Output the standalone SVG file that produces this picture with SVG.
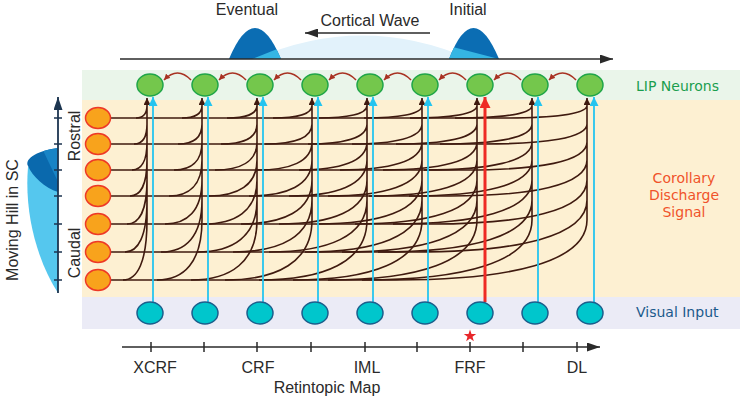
<svg xmlns="http://www.w3.org/2000/svg" width="746" height="402" viewBox="0 0 746 402">
<style>
.t{font-family:"Liberation Sans",Arial,sans-serif;font-size:16px;fill:#2a2a2a}
.v{font-family:"DejaVu Sans",Verdana,sans-serif;font-size:14px}
.br{fill:none;stroke:#3f1a0f;stroke-width:1.6;marker-end:url(#mb)}
.cy{fill:none;stroke:#25c4ef;stroke-width:1.8;marker-end:url(#mc)}
.arc{fill:none;stroke:#a83222;stroke-width:1.6;marker-end:url(#ma)}
.lip{fill:#74c74c;stroke:#1fa548;stroke-width:1.5}
.vis{fill:#00c6cc;stroke:#1b5e8c;stroke-width:1.5}
.sc{fill:#f8a31c;stroke:#ee3927;stroke-width:1.5}
.ax{fill:none;stroke:#2a2a2a;stroke-width:1.6}
</style>
<defs>
<marker id="mb" markerUnits="userSpaceOnUse" markerWidth="8" markerHeight="7" refX="7" refY="3.5" orient="auto"><path d="M0,0L7,3.5L0,7z" fill="#3f1a0f"/></marker>
<marker id="mc" markerUnits="userSpaceOnUse" markerWidth="10" markerHeight="9" refX="9" refY="4.5" orient="auto"><path d="M0,0L9,4.5L0,9z" fill="#25c4ef"/></marker>
<marker id="mr" markerUnits="userSpaceOnUse" markerWidth="12" markerHeight="11" refX="11" refY="5.5" orient="auto"><path d="M0,0L11,5.5L0,11z" fill="#ee2a24"/></marker>
<marker id="ma" markerUnits="userSpaceOnUse" markerWidth="7" markerHeight="6" refX="6" refY="3" orient="auto"><path d="M0,0L6,3L0,6z" fill="#a83222"/></marker>
<marker id="mk" markerUnits="userSpaceOnUse" markerWidth="14" markerHeight="9" refX="13" refY="4.5" orient="auto"><path d="M0,0L13,4.5L0,9z" fill="#2a2a2a"/></marker>
<marker id="mn" markerUnits="userSpaceOnUse" markerWidth="14" markerHeight="9" refX="13" refY="4.5" orient="auto"><path d="M0,0L13,4.5L0,9z" fill="#1c3550"/></marker>
<clipPath id="hE"><path d="M229 59Q255 -3 281 59Z"/></clipPath>
<clipPath id="hI"><path d="M449 59Q473 -3 499 59Z"/></clipPath>
<clipPath id="hH"><path d="M58 148C40 150 24 158 28 166C32 176 45 188 58 192Z"/></clipPath>
</defs>

<g id="bands">
<rect x="82" y="70" width="658" height="30" fill="#eaf5ea"/>
<rect x="82" y="100" width="658" height="197" fill="#fdf0d2"/>
<rect x="82" y="297" width="658" height="32" fill="#ebebf6"/>
</g>

<g id="cortical-wave">
<path d="M255 59Q362 12 470 59Z" fill="#e2f2fb"/>
<path d="M229 59Q255 -3 281 59Z" fill="#0b6db3"/>
<polygon points="252,59 290,44 290,59" fill="#35b5e3" clip-path="url(#hE)"/>
<path d="M449 59Q473 -3 499 59Z" fill="#0b6db3"/>
<polygon points="440,43.7 499,59 440,59" fill="#35b5e3" clip-path="url(#hI)"/>
<line x1="120" y1="59" x2="613" y2="59" class="ax" marker-end="url(#mk)"/>
<line x1="430" y1="33" x2="305" y2="33" class="ax" marker-end="url(#mk)"/>
<text class="t" x="247" y="15" text-anchor="middle">Eventual</text>
<text class="t" x="468" y="15" text-anchor="middle">Initial</text>
<text class="t" x="370" y="26" text-anchor="middle">Cortical Wave</text>
</g>

<g id="moving-hill">
<path d="M58 172L28 167C24 215 38 262 58 293Z" fill="#55c7ee"/>
<path d="M58 148C40 150 24 158 28 166C32 176 45 188 58 192Z" fill="#0a69ad"/>
<polygon points="40,144 62,144 62,190" fill="#1884c6" clip-path="url(#hH)"/>
<line x1="58" y1="293" x2="58" y2="97" stroke="#1c3550" stroke-width="1.8" marker-end="url(#mn)"/>
<path d="M54 118H62M54 144H62M54 170H62M54 196H62M54 224H62M54 252H62M54 280H62" stroke="#1c3550" stroke-width="1.5"/>
<text class="t" transform="translate(18,220) rotate(-90)" text-anchor="middle">Moving Hill in SC</text>
<text class="t" transform="translate(80,136) rotate(-90)" text-anchor="middle">Rostral</text>
<text class="t" transform="translate(80,253) rotate(-90)" text-anchor="middle">Caudal</text>
</g>

<g id="connectors">
<path d="M110 118H501M110 144H483M110 170H466M110 196H449M110 224H431M110 252H414M110 280H396" fill="none" stroke="#3f1a0f" stroke-width="1.6"/>
<path class="br" transform="translate(147,0)" d="M-11 118c6.6 0 11 -3.8 11 -12.5V98M-13 144c7.8 0 13 -6 13 -20V98M-15 170c9 0 15 -8.4 15 -28V98M-17 196c10.2 0 17 -10.8 17 -36V98M-20 224c12 0 20 -13.2 20 -44V98M-22 252c13.2 0 22 -15.6 22 -52V98M-24 280c14.4 0 24 -18 24 -60V98"/>
<path class="br" transform="translate(202,0)" d="M-20 118c12 0 20 -3.8 20 -12.5V98M-24 144c14.4 0 24 -6 24 -20V98M-28 170c16.8 0 28 -8.4 28 -28V98M-33 196c19.8 0 33 -10.8 33 -36V98M-37 224c22.2 0 37 -13.2 37 -44V98M-41 252c24.6 0 41 -15.6 41 -52V98M-45 280c27 0 45 -18 45 -60V98"/>
<path class="br" transform="translate(257,0)" d="M-30 118c18 0 30 -3.8 30 -12.5V98M-36 144c21.6 0 36 -6 36 -20V98M-42 170c25.2 0 42 -8.4 42 -28V98M-48 196c28.8 0 48 -10.8 48 -36V98M-54 224c32.4 0 54 -13.2 54 -44V98M-60 252c36 0 60 -15.6 60 -52V98M-66 280c39.6 0 66 -18 66 -60V98"/>
<path class="br" transform="translate(312,0)" d="M-39 118c23.4 0 39 -3.8 39 -12.5V98M-47 144c28.2 0 47 -6 47 -20V98M-55 170c33 0 55 -8.4 55 -28V98M-63 196c37.8 0 63 -10.8 63 -36V98M-71 224c42.6 0 71 -13.2 71 -44V98M-79 252c47.4 0 79 -15.6 79 -52V98M-87 280c52.2 0 87 -18 87 -60V98"/>
<path class="br" transform="translate(367,0)" d="M-49 118c29.4 0 49 -3.8 49 -12.5V98M-59 144c35.4 0 59 -6 59 -20V98M-68 170c40.8 0 68 -8.4 68 -28V98M-78 196c46.8 0 78 -10.8 78 -36V98M-88 224c52.8 0 88 -13.2 88 -44V98M-98 252c58.8 0 98 -15.6 98 -52V98M-108 280c64.8 0 108 -18 108 -60V98"/>
<path class="br" transform="translate(422,0)" d="M-58 118c34.8 0 58 -3.8 58 -12.5V98M-70 144c42 0 70 -6 70 -20V98M-82 170c49.2 0 82 -8.4 82 -28V98M-94 196c56.4 0 94 -10.8 94 -36V98M-105 224c63 0 105 -13.2 105 -44V98M-117 252c70.2 0 117 -15.6 117 -52V98M-129 280c77.4 0 129 -18 129 -60V98"/>
<path class="br" transform="translate(477,0)" d="M-67 118c40.2 0 67 -3.8 67 -12.5V98M-81 144c48.6 0 81 -6 81 -20V98M-94 170c56.4 0 94 -8.4 94 -28V98M-108 196c64.8 0 108 -10.8 108 -36V98M-122 224c73.2 0 122 -13.2 122 -44V98M-135 252c81 0 135 -15.6 135 -52V98M-149 280c89.4 0 149 -18 149 -60V98"/>
<path class="br" transform="translate(532,0)" d="M-77 118c46.2 0 77 -3.8 77 -12.5V98M-92 144c55.2 0 92 -6 92 -20V98M-108 170c64.8 0 108 -8.4 108 -28V98M-123 196c73.8 0 123 -10.8 123 -36V98M-139 224c83.4 0 139 -13.2 139 -44V98M-154 252c92.4 0 154 -15.6 154 -52V98M-170 280c102 0 170 -18 170 -60V98"/>
<path class="br" transform="translate(587,0)" d="M-86 118c51.6 0 86 -3.8 86 -12.5V98M-104 144c62.4 0 104 -6 104 -20V98M-121 170c72.6 0 121 -8.4 121 -28V98M-138 196c82.8 0 138 -10.8 138 -36V98M-156 224c93.6 0 156 -13.2 156 -44V98M-173 252c103.8 0 173 -15.6 173 -52V98M-191 280c114.6 0 191 -18 191 -60V98"/>
<line class="cy" x1="153" y1="302" x2="153" y2="97"/>
<line class="cy" x1="208" y1="302" x2="208" y2="97"/>
<line class="cy" x1="263" y1="302" x2="263" y2="97"/>
<line class="cy" x1="318" y1="302" x2="318" y2="97"/>
<line class="cy" x1="373" y1="302" x2="373" y2="97"/>
<line class="cy" x1="428" y1="302" x2="428" y2="97"/>
<line x1="485" y1="302" x2="485" y2="97" stroke="#ee2a24" stroke-width="3" marker-end="url(#mr)"/>
<line class="cy" x1="538" y1="302" x2="538" y2="97"/>
<line class="cy" x1="594" y1="302" x2="594" y2="97"/>
<path class="arc" d="M191 80Q177.5 66 164 80"/>
<path class="arc" d="M246 80Q232.5 66 219 80"/>
<path class="arc" d="M301 80Q287.5 66 274 80"/>
<path class="arc" d="M356 80Q342.5 66 329 80"/>
<path class="arc" d="M411 80Q397.5 66 384 80"/>
<path class="arc" d="M466 80Q452.5 66 439 80"/>
<path class="arc" d="M521 80Q507.5 66 494 80"/>
<path class="arc" d="M576 80Q562.5 66 549 80"/>
</g>

<g id="lip-neurons">
<ellipse class="lip" cx="150" cy="85" rx="13" ry="11"/>
<ellipse class="lip" cx="205" cy="85" rx="13" ry="11"/>
<ellipse class="lip" cx="260" cy="85" rx="13" ry="11"/>
<ellipse class="lip" cx="315" cy="85" rx="13" ry="11"/>
<ellipse class="lip" cx="370" cy="85" rx="13" ry="11"/>
<ellipse class="lip" cx="425" cy="85" rx="13" ry="11"/>
<ellipse class="lip" cx="480" cy="85" rx="13" ry="11"/>
<ellipse class="lip" cx="535" cy="85" rx="13" ry="11"/>
<ellipse class="lip" cx="590" cy="85" rx="13" ry="11"/>
</g>

<g id="visual-input">
<ellipse class="vis" cx="150" cy="313" rx="13" ry="11"/>
<ellipse class="vis" cx="205" cy="313" rx="13" ry="11"/>
<ellipse class="vis" cx="260" cy="313" rx="13" ry="11"/>
<ellipse class="vis" cx="315" cy="313" rx="13" ry="11"/>
<ellipse class="vis" cx="370" cy="313" rx="13" ry="11"/>
<ellipse class="vis" cx="425" cy="313" rx="13" ry="11"/>
<ellipse class="vis" cx="480" cy="313" rx="13" ry="11"/>
<ellipse class="vis" cx="535" cy="313" rx="13" ry="11"/>
<ellipse class="vis" cx="590" cy="313" rx="13" ry="11"/>
</g>

<g id="sc-neurons">
<ellipse class="sc" cx="98" cy="118" rx="12.5" ry="10.5"/>
<ellipse class="sc" cx="98" cy="144" rx="12.5" ry="10.5"/>
<ellipse class="sc" cx="98" cy="170" rx="12.5" ry="10.5"/>
<ellipse class="sc" cx="98" cy="196" rx="12.5" ry="10.5"/>
<ellipse class="sc" cx="98" cy="224" rx="12.5" ry="10.5"/>
<ellipse class="sc" cx="98" cy="252" rx="12.5" ry="10.5"/>
<ellipse class="sc" cx="98" cy="280" rx="12.5" ry="10.5"/>
</g>

<g id="labels">
<text class="v" x="636" y="91" fill="#1a9e4e">LIP Neurons</text>
<text class="v" x="684" y="183" fill="#f0532a" text-anchor="middle">Corollary</text>
<text class="v" x="684" y="200" fill="#f0532a" text-anchor="middle">Discharge</text>
<text class="v" x="684" y="217" fill="#f0532a" text-anchor="middle">Signal</text>
<text class="v" x="636" y="317" fill="#1b5a8c">Visual Input</text>
</g>

<g id="retinotopic-axis">
<line x1="122" y1="347" x2="600" y2="347" class="ax" marker-end="url(#mk)"/>
<path d="M151 342V352M204 342V352M257 342V352M311 342V352M365 342V352M417 342V352M470 342V352M523 342V352M577 342V352" stroke="#2a2a2a" stroke-width="1.5"/>
<polygon points="470,329.5 471.5,333.9 476.2,334 472.5,336.8 473.8,341.3 470,338.6 466.2,341.3 467.5,336.8 463.8,334 468.5,333.9" fill="#e8262a"/>
<text class="t" x="155" y="373" text-anchor="middle">XCRF</text>
<text class="t" x="258" y="373" text-anchor="middle">CRF</text>
<text class="t" x="367" y="373" text-anchor="middle">IML</text>
<text class="t" x="470" y="373" text-anchor="middle">FRF</text>
<text class="t" x="577" y="373" text-anchor="middle">DL</text>
<text class="t" x="327" y="393" text-anchor="middle">Retintopic Map</text>
</g>
</svg>
